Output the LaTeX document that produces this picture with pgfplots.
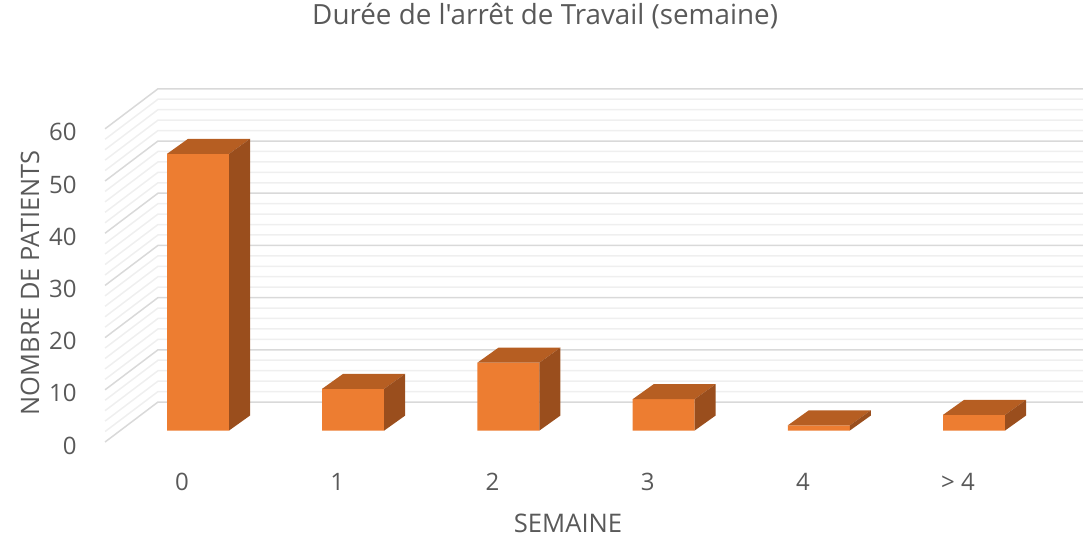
\documentclass[border=0pt]{standalone}
\usepackage{fontspec}
\setmainfont{Open Sans}[Ligatures=TeXOff]
\usepackage{pgfplots}
\pgfplotsset{compat=1.18}
\definecolor{barfront}{HTML}{ED7D31}
\definecolor{bartop}{HTML}{B65E22}
\definecolor{barside}{HTML}{9A4E1D}
\definecolor{gridmajor}{HTML}{D9D9D9}
\definecolor{gridminor}{HTML}{EFEFEF}
\definecolor{txt}{HTML}{595959}

\pgfdeclareplotmark{cuboid}{%
  \pgfmathsetlengthmacro\cubH{\barval*2.61pt}%
  \pgfsetfillcolor{bartop}%
  \pgfpathmoveto{\pgfqpoint{-15.5pt}{0pt}}%
  \pgfpathlineto{\pgfqpoint{15.5pt}{0pt}}%
  \pgfpathlineto{\pgfqpoint{26pt}{7.5pt}}%
  \pgfpathlineto{\pgfqpoint{-5pt}{7.5pt}}%
  \pgfpathclose
  \pgfusepath{fill}%
  \pgfsetfillcolor{barside}%
  \pgfpathmoveto{\pgfqpoint{15.5pt}{0pt}}%
  \pgfpathlineto{\pgfqpoint{26pt}{7.5pt}}%
  \pgfpathlineto{\pgfpoint{26pt}{7.5pt-\cubH}}%
  \pgfpathlineto{\pgfpoint{15.5pt}{-\cubH}}%
  \pgfpathclose
  \pgfusepath{fill}%
}

\begin{document}
\begin{tikzpicture}
\begin{axis}[
  x=77.6pt, y=2.61pt,
  xmin=-0.599, xmax=5.702, ymin=-2.203, ymax=65.42,
  clip=false,
  axis line style={draw=none},
  tick style={draw=none},
  major tick length=0pt,
  xtick={-0.103,0.897,1.897,2.897,3.897,4.897},
  xticklabels={0,1,2,3,4,{> 4}},
  ytick={-2.203,7.797,17.797,27.797,37.797,47.797,57.797},
  yticklabels={0,10,20,30,40,50,60},
  xticklabel style={anchor=base, inner sep=0pt, yshift=-24pt, font=\fontsize{12}{14}\selectfont, text=txt},
  yticklabel style={anchor=east, inner sep=0pt, xshift=-14pt, yshift=-1.8pt, font=\fontsize{12}{14}\selectfont, text=txt},
  title={Durée de l'arrêt de Travail (semaine)},
  title style={at={(axis description cs:0.450,1.173)}, anchor=center, font=\fontsize{13.9}{16}\selectfont, text=txt},
  xlabel={SEMAINE},
  xlabel style={at={(axis description cs:0.4734,-0.2296)}, anchor=center, font=\fontsize{12.8}{15}\selectfont, text=txt},
  ylabel={NOMBRE DE PATIENTS},
  ylabel style={at={(axis description cs:-0.0767,0.4506)}, anchor=center, font=\fontsize{12.7}{15}\selectfont, text=txt},
]
\pgfplotsforeachungrouped \v in {0,2,...,60}{%
  \pgfmathsetmacro\yb{\v+5.46}%
  \pgfmathsetmacro\yf{\v-2.203}%
  \pgfmathtruncatemacro\ismaj{mod(\v,10)==0}%
  \ifnum\ismaj=1 \def\gc{gridmajor}\else\def\gc{gridminor}\fi
  \edef\temp{\noexpand\draw[\gc, line width=0.75pt] (axis cs:-0.599,\yf) -- (axis cs:-0.258,\yb) -- (axis cs:5.702,\yb);}%
  \temp
}
\addplot[ybar, bar width=31pt, fill=barfront, draw=none] coordinates {(0,53) (1,8) (2,13) (3,6) (4,1) (5,3)};
\addplot[only marks, mark=cuboid, visualization depends on={rawy \as \barval}] coordinates {(0,53) (1,8) (2,13) (3,6) (4,1) (5,3)};
\coordinate (BL) at (axis cs:-1.276,-20.21);
\coordinate (TR) at (axis cs:5.702,82.47);
\end{axis}
\pgfresetboundingbox
\useasboundingbox (BL) rectangle (TR);
\end{tikzpicture}
\end{document}
